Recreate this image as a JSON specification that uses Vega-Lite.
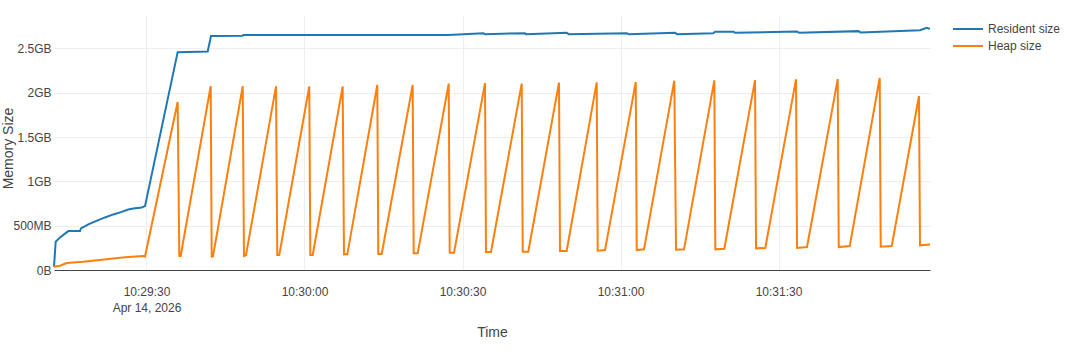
{
  "$schema": "https://vega.github.io/schema/vega-lite/v6.json",
  "width": 876,
  "height": 255,
  "autosize": {"type": "none"},
  "padding": {"left": 54, "top": 15, "right": 138, "bottom": 89},
  "background": "white",
  "config": {
    "view": {"stroke": null},
    "font": "Liberation Sans",
    "axis": {"labelFont": "Liberation Sans", "titleFont": "Liberation Sans", "labelColor": "#444", "titleColor": "#444", "labelFontSize": 12, "titleFontSize": 14, "titleFontWeight": "normal", "gridColor": "#eeeeee", "gridWidth": 1},
    "legend": {"labelFont": "Liberation Sans", "labelFontSize": 12, "labelColor": "#444"}
  },
  "data": {
    "values": [
      {"t": "2026-04-14T10:29:12.440", "series": "Resident size", "v": 37000000},
      {"t": "2026-04-14T10:29:12.760", "series": "Resident size", "v": 319000000},
      {"t": "2026-04-14T10:29:13.580", "series": "Resident size", "v": 368000000},
      {"t": "2026-04-14T10:29:15.150", "series": "Resident size", "v": 439000000},
      {"t": "2026-04-14T10:29:17.370", "series": "Resident size", "v": 439000000},
      {"t": "2026-04-14T10:29:17.560", "series": "Resident size", "v": 470000000},
      {"t": "2026-04-14T10:29:18.950", "series": "Resident size", "v": 515000000},
      {"t": "2026-04-14T10:29:20.850", "series": "Resident size", "v": 563000000},
      {"t": "2026-04-14T10:29:22.120", "series": "Resident size", "v": 593000000},
      {"t": "2026-04-14T10:29:23.700", "series": "Resident size", "v": 627000000},
      {"t": "2026-04-14T10:29:25.290", "series": "Resident size", "v": 656000000},
      {"t": "2026-04-14T10:29:26.540", "series": "Resident size", "v": 683000000},
      {"t": "2026-04-14T10:29:27.490", "series": "Resident size", "v": 694000000},
      {"t": "2026-04-14T10:29:29.090", "series": "Resident size", "v": 706000000},
      {"t": "2026-04-14T10:29:29.720", "series": "Resident size", "v": 721000000},
      {"t": "2026-04-14T10:29:35.920", "series": "Resident size", "v": 2458000000},
      {"t": "2026-04-14T10:29:41.620", "series": "Resident size", "v": 2466000000},
      {"t": "2026-04-14T10:29:42.250", "series": "Resident size", "v": 2639000000},
      {"t": "2026-04-14T10:29:48.270", "series": "Resident size", "v": 2643000000},
      {"t": "2026-04-14T10:29:48.380", "series": "Resident size", "v": 2650000000},
      {"t": "2026-04-14T10:30:27.300", "series": "Resident size", "v": 2652000000},
      {"t": "2026-04-14T10:30:33.950", "series": "Resident size", "v": 2672000000},
      {"t": "2026-04-14T10:30:34.270", "series": "Resident size", "v": 2661000000},
      {"t": "2026-04-14T10:30:41.870", "series": "Resident size", "v": 2672000000},
      {"t": "2026-04-14T10:30:42.060", "series": "Resident size", "v": 2661000000},
      {"t": "2026-04-14T10:30:49.780", "series": "Resident size", "v": 2677000000},
      {"t": "2026-04-14T10:30:50.160", "series": "Resident size", "v": 2661000000},
      {"t": "2026-04-14T10:31:01.180", "series": "Resident size", "v": 2672000000},
      {"t": "2026-04-14T10:31:01.550", "series": "Resident size", "v": 2661000000},
      {"t": "2026-04-14T10:31:10.350", "series": "Resident size", "v": 2677000000},
      {"t": "2026-04-14T10:31:10.730", "series": "Resident size", "v": 2661000000},
      {"t": "2026-04-14T10:31:17.620", "series": "Resident size", "v": 2672000000},
      {"t": "2026-04-14T10:31:17.940", "series": "Resident size", "v": 2688000000},
      {"t": "2026-04-14T10:31:21.420", "series": "Resident size", "v": 2688000000},
      {"t": "2026-04-14T10:31:21.740", "series": "Resident size", "v": 2677000000},
      {"t": "2026-04-14T10:31:33.450", "series": "Resident size", "v": 2691000000},
      {"t": "2026-04-14T10:31:33.890", "series": "Resident size", "v": 2677000000},
      {"t": "2026-04-14T10:31:45.150", "series": "Resident size", "v": 2695000000},
      {"t": "2026-04-14T10:31:45.610", "series": "Resident size", "v": 2680000000},
      {"t": "2026-04-14T10:31:56.860", "series": "Resident size", "v": 2706000000},
      {"t": "2026-04-14T10:31:58.140", "series": "Resident size", "v": 2733000000},
      {"t": "2026-04-14T10:31:58.760", "series": "Resident size", "v": 2721000000},
      {"t": "2026-04-14T10:29:12.440", "series": "Heap size", "v": 37000000},
      {"t": "2026-04-14T10:29:13.580", "series": "Heap size", "v": 48000000},
      {"t": "2026-04-14T10:29:14.850", "series": "Heap size", "v": 79000000},
      {"t": "2026-04-14T10:29:18.000", "series": "Heap size", "v": 93000000},
      {"t": "2026-04-14T10:29:25.920", "series": "Heap size", "v": 143000000},
      {"t": "2026-04-14T10:29:29.390", "series": "Heap size", "v": 158000000},
      {"t": "2026-04-14T10:29:29.720", "series": "Heap size", "v": 152000000},
      {"t": "2026-04-14T10:29:35.920", "series": "Heap size", "v": 1895000000},
      {"t": "2026-04-14T10:29:36.230", "series": "Heap size", "v": 158000000},
      {"t": "2026-04-14T10:29:36.490", "series": "Heap size", "v": 158000000},
      {"t": "2026-04-14T10:29:42.190", "series": "Heap size", "v": 2075000000},
      {"t": "2026-04-14T10:29:42.380", "series": "Heap size", "v": 152000000},
      {"t": "2026-04-14T10:29:42.630", "series": "Heap size", "v": 154000000},
      {"t": "2026-04-14T10:29:48.270", "series": "Heap size", "v": 2075000000},
      {"t": "2026-04-14T10:29:48.510", "series": "Heap size", "v": 158000000},
      {"t": "2026-04-14T10:29:48.890", "series": "Heap size", "v": 166000000},
      {"t": "2026-04-14T10:29:54.590", "series": "Heap size", "v": 2072000000},
      {"t": "2026-04-14T10:29:54.830", "series": "Heap size", "v": 169000000},
      {"t": "2026-04-14T10:29:55.210", "series": "Heap size", "v": 169000000},
      {"t": "2026-04-14T10:30:00.910", "series": "Heap size", "v": 2072000000},
      {"t": "2026-04-14T10:30:01.100", "series": "Heap size", "v": 169000000},
      {"t": "2026-04-14T10:30:01.560", "series": "Heap size", "v": 169000000},
      {"t": "2026-04-14T10:30:07.250", "series": "Heap size", "v": 2072000000},
      {"t": "2026-04-14T10:30:07.500", "series": "Heap size", "v": 177000000},
      {"t": "2026-04-14T10:30:08.130", "series": "Heap size", "v": 177000000},
      {"t": "2026-04-14T10:30:13.820", "series": "Heap size", "v": 2087000000},
      {"t": "2026-04-14T10:30:14.010", "series": "Heap size", "v": 180000000},
      {"t": "2026-04-14T10:30:14.660", "series": "Heap size", "v": 180000000},
      {"t": "2026-04-14T10:30:20.540", "series": "Heap size", "v": 2087000000},
      {"t": "2026-04-14T10:30:20.730", "series": "Heap size", "v": 188000000},
      {"t": "2026-04-14T10:30:21.490", "series": "Heap size", "v": 188000000},
      {"t": "2026-04-14T10:30:27.380", "series": "Heap size", "v": 2103000000},
      {"t": "2026-04-14T10:30:27.570", "series": "Heap size", "v": 195000000},
      {"t": "2026-04-14T10:30:28.390", "series": "Heap size", "v": 195000000},
      {"t": "2026-04-14T10:30:34.270", "series": "Heap size", "v": 2109000000},
      {"t": "2026-04-14T10:30:34.460", "series": "Heap size", "v": 203000000},
      {"t": "2026-04-14T10:30:35.410", "series": "Heap size", "v": 203000000},
      {"t": "2026-04-14T10:30:41.240", "series": "Heap size", "v": 2103000000},
      {"t": "2026-04-14T10:30:41.430", "series": "Heap size", "v": 206000000},
      {"t": "2026-04-14T10:30:42.490", "series": "Heap size", "v": 206000000},
      {"t": "2026-04-14T10:30:48.320", "series": "Heap size", "v": 2114000000},
      {"t": "2026-04-14T10:30:48.510", "series": "Heap size", "v": 214000000},
      {"t": "2026-04-14T10:30:49.780", "series": "Heap size", "v": 214000000},
      {"t": "2026-04-14T10:30:55.480", "series": "Heap size", "v": 2117000000},
      {"t": "2026-04-14T10:30:55.670", "series": "Heap size", "v": 217000000},
      {"t": "2026-04-14T10:30:57.060", "series": "Heap size", "v": 225000000},
      {"t": "2026-04-14T10:31:02.890", "series": "Heap size", "v": 2120000000},
      {"t": "2026-04-14T10:31:03.080", "series": "Heap size", "v": 225000000},
      {"t": "2026-04-14T10:31:04.460", "series": "Heap size", "v": 233000000},
      {"t": "2026-04-14T10:31:10.210", "series": "Heap size", "v": 2136000000},
      {"t": "2026-04-14T10:31:10.540", "series": "Heap size", "v": 229000000},
      {"t": "2026-04-14T10:31:12.060", "series": "Heap size", "v": 233000000},
      {"t": "2026-04-14T10:31:17.810", "series": "Heap size", "v": 2140000000},
      {"t": "2026-04-14T10:31:18.000", "series": "Heap size", "v": 233000000},
      {"t": "2026-04-14T10:31:19.710", "series": "Heap size", "v": 240000000},
      {"t": "2026-04-14T10:31:25.540", "series": "Heap size", "v": 2143000000},
      {"t": "2026-04-14T10:31:25.730", "series": "Heap size", "v": 244000000},
      {"t": "2026-04-14T10:31:27.490", "series": "Heap size", "v": 248000000},
      {"t": "2026-04-14T10:31:33.320", "series": "Heap size", "v": 2151000000},
      {"t": "2026-04-14T10:31:33.510", "series": "Heap size", "v": 248000000},
      {"t": "2026-04-14T10:31:35.410", "series": "Heap size", "v": 259000000},
      {"t": "2026-04-14T10:31:41.240", "series": "Heap size", "v": 2154000000},
      {"t": "2026-04-14T10:31:41.430", "series": "Heap size", "v": 259000000},
      {"t": "2026-04-14T10:31:43.520", "series": "Heap size", "v": 270000000},
      {"t": "2026-04-14T10:31:49.210", "series": "Heap size", "v": 2166000000},
      {"t": "2026-04-14T10:31:49.400", "series": "Heap size", "v": 262000000},
      {"t": "2026-04-14T10:31:51.490", "series": "Heap size", "v": 270000000},
      {"t": "2026-04-14T10:31:56.670", "series": "Heap size", "v": 1963000000},
      {"t": "2026-04-14T10:31:56.860", "series": "Heap size", "v": 278000000},
      {"t": "2026-04-14T10:31:58.760", "series": "Heap size", "v": 289000000}
    ]
  },
  "mark": {"type": "line", "strokeWidth": 2},
  "encoding": {
    "x": {
      "field": "t",
      "type": "temporal",
      "title": "Time",
      "scale": {"nice": false},
      "axis": {
        "values": [
          {"year": 2026, "month": 4, "date": 14, "hours": 10, "minutes": 29, "seconds": 30},
          {"year": 2026, "month": 4, "date": 14, "hours": 10, "minutes": 30, "seconds": 0},
          {"year": 2026, "month": 4, "date": 14, "hours": 10, "minutes": 30, "seconds": 30},
          {"year": 2026, "month": 4, "date": 14, "hours": 10, "minutes": 31, "seconds": 0},
          {"year": 2026, "month": 4, "date": 14, "hours": 10, "minutes": 31, "seconds": 30}
        ],
        "ticks": false,
        "domainColor": "#444",
        "domainWidth": 1,
        "labelPadding": 16,
        "labelLineHeight": 16,
        "labelFlush": false,
        "labelOverlap": false,
        "labelExpr": "timeFormat(datum.value, '%H:%M:%S') == '10:29:30' ? ['10:29:30', 'Apr 14, 2026'] : timeFormat(datum.value, '%H:%M:%S')",
        "titlePadding": 12
      }
    },
    "y": {
      "field": "v",
      "type": "quantitative",
      "title": "Memory Size",
      "scale": {"domain": [0, 2877000000], "nice": false},
      "axis": {
        "values": [0, 500000000, 1000000000, 1500000000, 2000000000, 2500000000],
        "ticks": false,
        "domain": false,
        "labelPadding": 3,
        "labelExpr": "format(datum.value, '~s') + 'B'",
        "titleX": -39,
        "titleY": 133
      }
    },
    "color": {
      "field": "series",
      "type": "nominal",
      "scale": {"domain": ["Resident size", "Heap size"], "range": ["#1f77b4", "#ff7f0e"]},
      "legend": {
        "title": null,
        "orient": "none",
        "legendX": 904,
        "legendY": 4,
        "symbolType": "M-1.667,0L1.667,0",
        "symbolSize": 324,
        "symbolStrokeWidth": 2,
        "labelOffset": 10,
        "rowPadding": 1
      }
    }
  }
}
